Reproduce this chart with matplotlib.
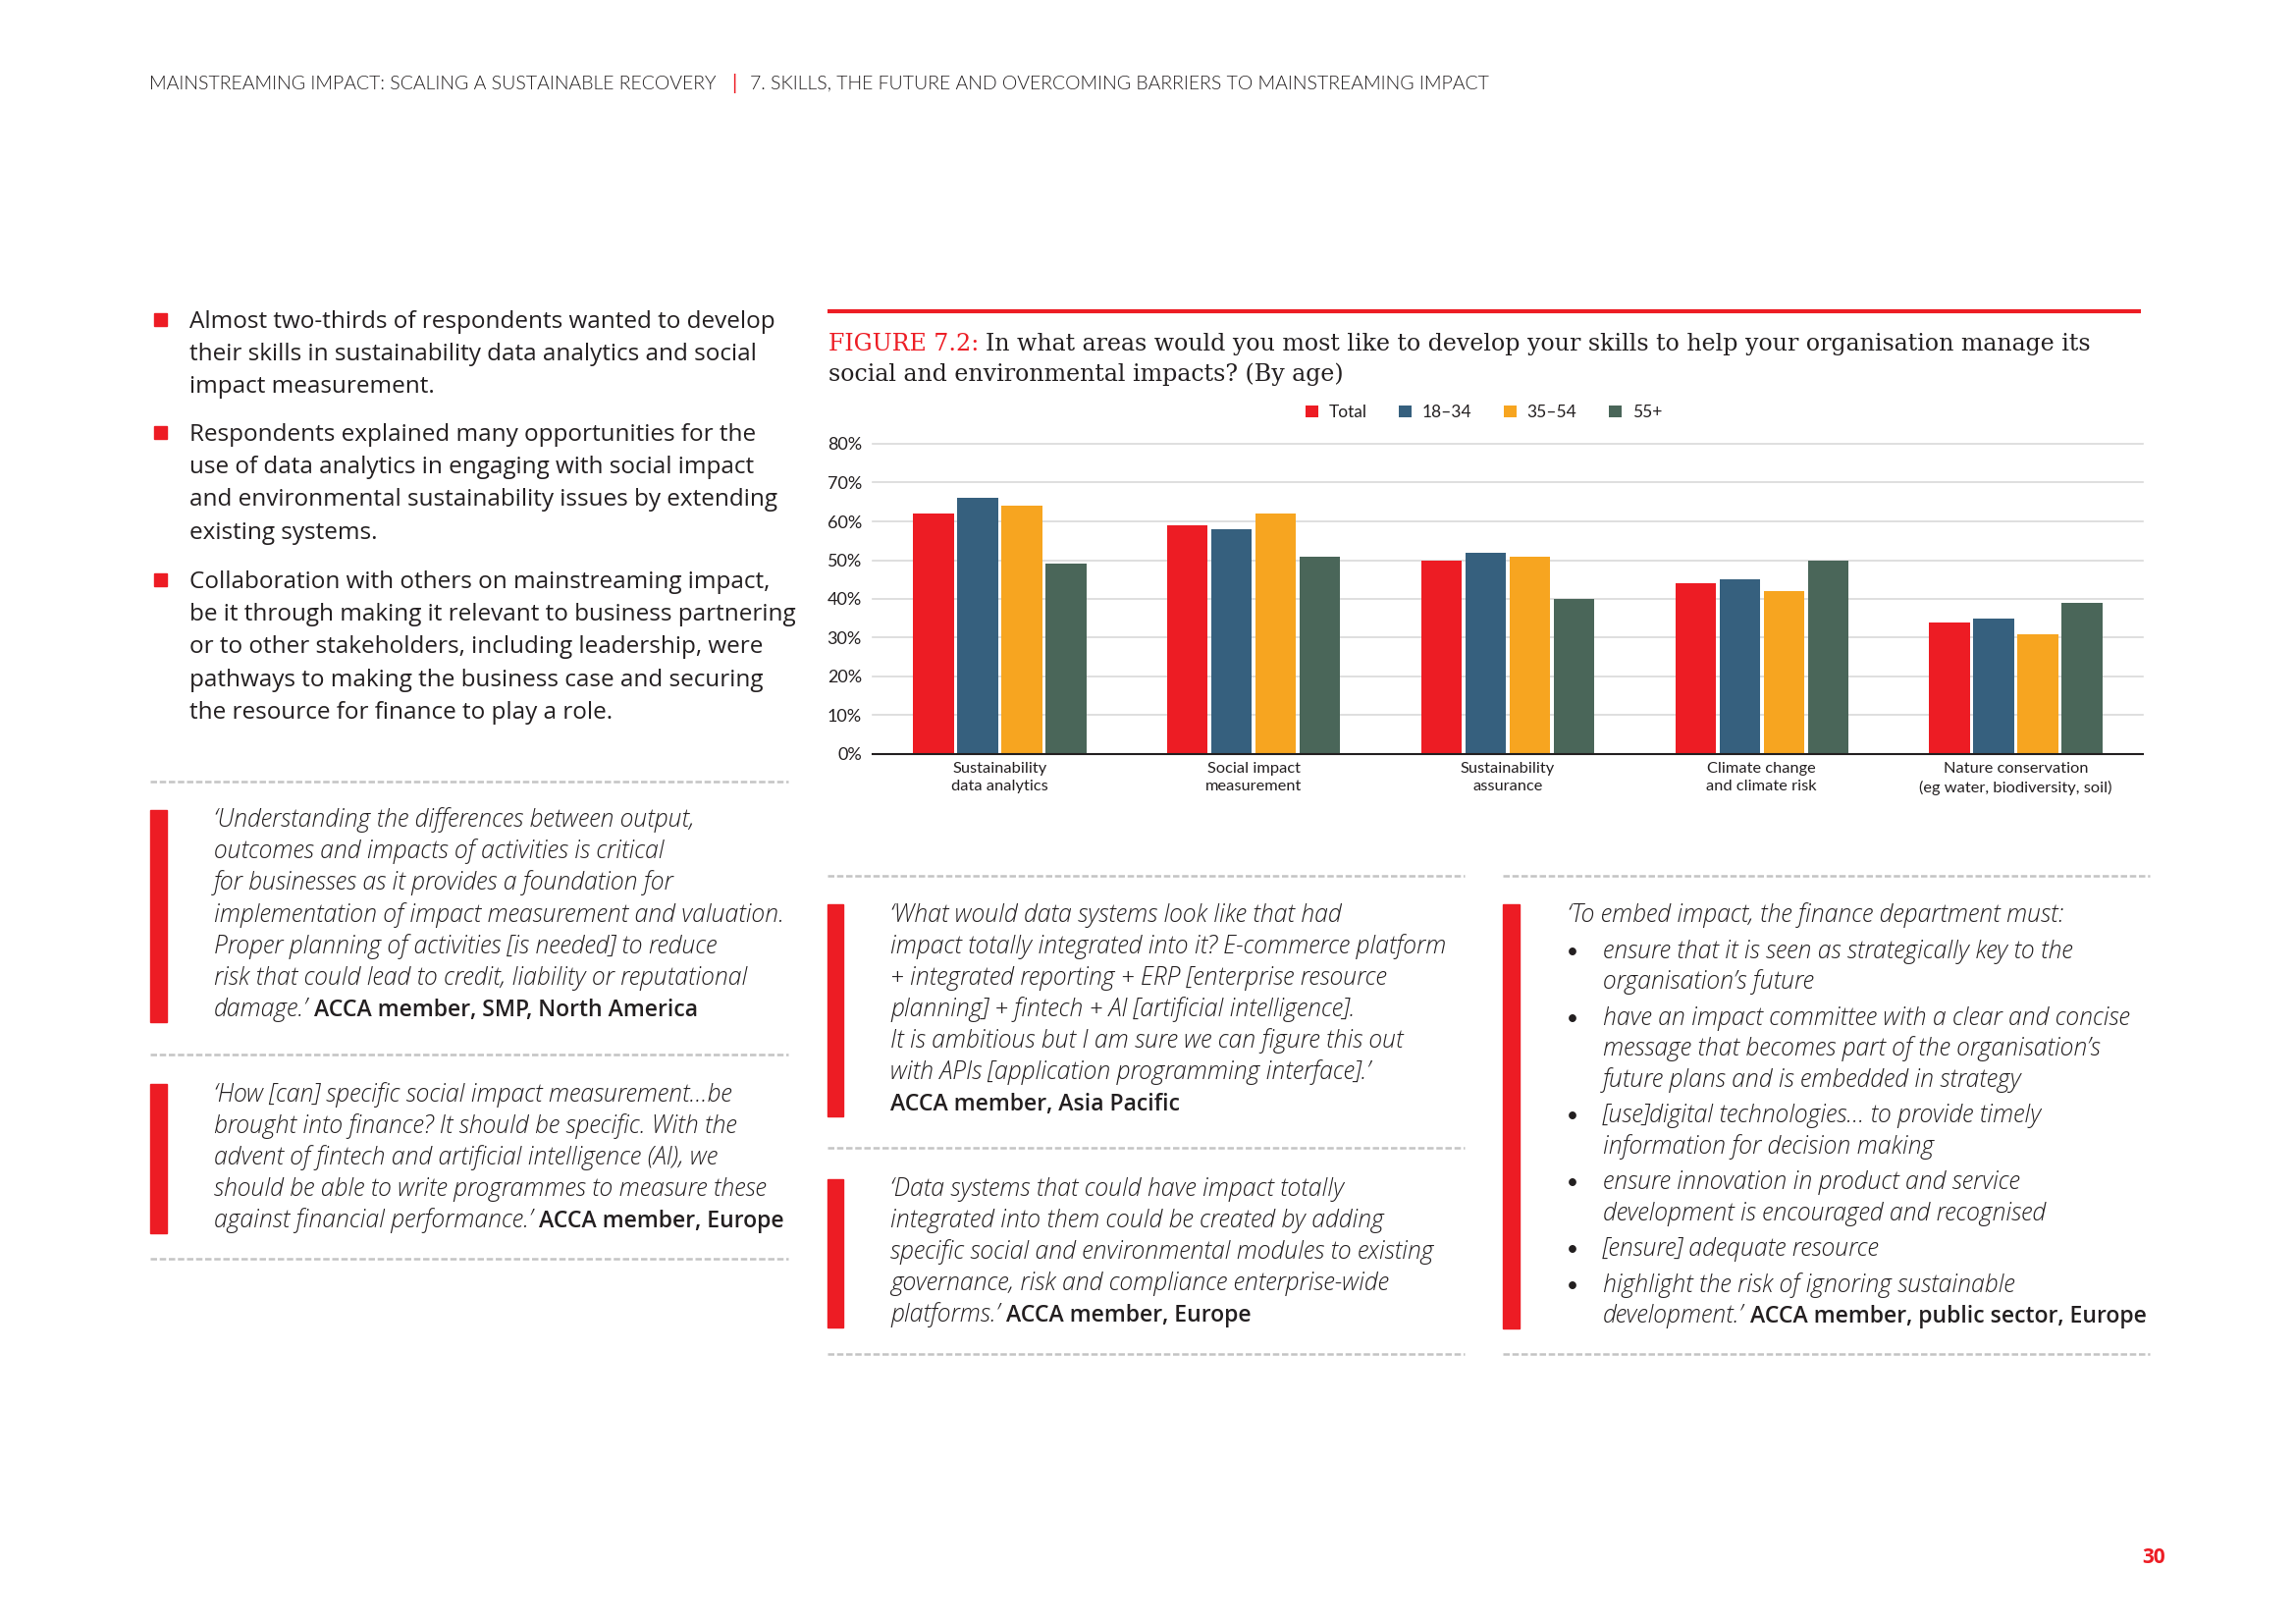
import matplotlib.pyplot as plt
import numpy as np
from matplotlib.patches import Rectangle

# Data
categories = ['Sustainability\ndata analytics', 'Social impact\nmeasurement', 'Sustainability\nassurance',
              'Climate change\nand climate risk', 'Nature conservation\n(eg water, biodiversity, soil)']
series_names = ['Total', '18–34', '35–54', '55+']
total = [62, 59, 50, 44, 34]
age_18_34 = [66, 58, 52, 45, 35]
age_35_54 = [64, 62, 51, 42, 31]
age_55_plus = [49, 51, 40, 50, 39]
y_ticks = [0, 10, 20, 30, 40, 50, 60, 70, 80]

header_left = 'MAINSTREAMING IMPACT: SCALING A SUSTAINABLE RECOVERY'
header_right = '7. SKILLS, THE FUTURE AND OVERCOMING BARRIERS TO MAINSTREAMING IMPACT'
title_label = 'FIGURE 7.2:'
title_lines = ['In what areas would you most like to develop your skills to help your organisation manage its',
               'social and environmental impacts? (By age)']

bullets = [
    ['Almost two-thirds of respondents wanted to develop',
     'their skills in sustainability data analytics and social',
     'impact measurement.'],
    ['Respondents explained many opportunities for the',
     'use of data analytics in engaging with social impact',
     'and environmental sustainability issues by extending',
     'existing systems.'],
    ['Collaboration with others on mainstreaming impact,',
     'be it through making it relevant to business partnering',
     'or to other stakeholders, including leadership, were',
     'pathways to making the business case and securing',
     'the resource for finance to play a role.'],
]
quote1 = ['‘Understanding the differences between output,',
          'outcomes and impacts of activities is critical',
          'for businesses as it provides a foundation for',
          'implementation of impact measurement and valuation.',
          'Proper planning of activities [is needed] to reduce',
          'risk that could lead to credit, liability or reputational',
          'damage.’']
quote2 = ['‘How [can] specific social impact measurement…be',
          'brought into finance? It should be specific. With the',
          'advent of fintech and artificial intelligence (AI), we',
          'should be able to write programmes to measure these',
          'against financial performance.’']
quote3 = ['‘What would data systems look like that had',
          'impact totally integrated into it? E-commerce platform',
          '+ integrated reporting + ERP [enterprise resource',
          'planning] + fintech + AI [artificial intelligence].',
          'It is ambitious but I am sure we can figure this out',
          'with APIs [application programming interface].’']
quote4 = ['‘Data systems that could have impact totally',
          'integrated into them could be created by adding',
          'specific social and environmental modules to existing',
          'governance, risk and compliance enterprise-wide',
          'platforms.’']
quote5_intro = '‘To embed impact, the finance department must:'
quote5_points = [
    ['ensure that it is seen as strategically key to the', 'organisation’s future'],
    ['have an impact committee with a clear and concise', 'message that becomes part of the organisation’s',
     'future plans and is embedded in strategy'],
    ['[use]digital technologies… to provide timely', 'information for decision making'],
    ['ensure innovation in product and service', 'development is encouraged and recognised'],
    ['[ensure] adequate resource'],
    ['highlight the risk of ignoring sustainable', 'development.’'],
]

RED = '#ED1C24'
BLUE = '#36607E'
ORANGE = '#F7A520'
GREEN = '#4A6659'
INK = '#231F20'
DASH = '#C4C4C4'

plt.rcParams['font.family'] = ['Lato', 'DejaVu Sans']
PAGE = ['Open Sans', 'DejaVu Sans']
SERIF = ['DejaVu Serif']

W, H = 2339, 1654
fig = plt.figure(figsize=(W / 100, H / 100), dpi=100)
ov = fig.add_axes([0, 0, 1, 1])
ov.set_xlim(0, W)
ov.set_ylim(H, 0)
ov.axis('off')
r = fig.canvas.get_renderer()

REG = dict(family=PAGE)
ITAL = dict(family=PAGE, style='italic', fontweight=300)
BOLD = dict(family=PAGE, fontweight=600)
HEAD = dict(family=['Lato', 'DejaVu Sans'], fontweight=300)


def fit(text, width, kw):
    # font size that gives the text the width it has on the page
    t = ov.text(0, 0, text, fontsize=10, **kw)
    w = t.get_window_extent(renderer=r).width
    t.remove()
    return 10 * width / w


BODY = (fit(bullets[0][0], 600, REG) + fit(bullets[2][1], 609, REG)) / 2
QUOTE = fit(quote1[3], 578, ITAL)
HEAD_SIZE = fit(header_left, 581, HEAD)
TITLE = fit(title_label + ' ' + title_lines[0], 1294, dict(family=SERIF))
BOLD_SIZE = QUOTE * 0.93


def runs(x, y, parts, size):
    # draw text pieces one after another on the same baseline
    for text, kw in parts:
        kw = dict(kw)
        s = kw.pop('size', size)
        t = ov.text(x, y, text, fontsize=s, va='baseline', color=kw.pop('color', INK), **kw)
        x += t.get_window_extent(renderer=r).width + 0.27 * size * 100 / 72


def dashed(x0, x1, y):
    ov.plot([x0, x1], [y, y], color=DASH, lw=1.8, dashes=(2.6, 1.1), solid_capstyle='butt')


WHO = dict(BOLD, size=BOLD_SIZE)


def quote(x, y0, step, lines, who):
    for i, line in enumerate(lines[:-1]):
        runs(x, y0 + i * step, [(line, ITAL)], QUOTE)
    last = lines[-1]
    y = y0 + (len(lines) - 1) * step
    if last:
        runs(x, y, [(last, ITAL), (who, WHO)], QUOTE)
    else:
        runs(x, y, [(who, WHO)], QUOTE)


# header
ov.text(152, 91, header_left, fontsize=HEAD_SIZE, color=INK, va='baseline', **HEAD)
ov.text(748, 91, '|', fontsize=HEAD_SIZE + 1, color=RED, va='baseline', ha='center')
ov.text(764, 91, header_right, fontsize=HEAD_SIZE, color=INK, va='baseline', **HEAD)

# left bullets
for first, lines in zip([334, 449, 599], bullets):
    ov.add_patch(Rectangle((157, first - 15), 13, 13, color=RED))
    for i, line in enumerate(lines):
        ov.text(193, first + i * 33.2, line, fontsize=BODY, color=INK, va='baseline', **REG)

# left quotes
for y in [796, 1074, 1282]:
    dashed(153, 803, y)
ov.add_patch(Rectangle((153, 825), 17, 216, color=RED))
quote(218, 842.3, 32.07, quote1, 'ACCA member, SMP, North America')
ov.add_patch(Rectangle((153, 1104), 17, 152, color=RED))
quote(218, 1122.3, 31.9, quote2, 'ACCA member, Europe')

# middle quotes
for y in [892, 1169, 1379]:
    dashed(843, 1492, y)
ov.add_patch(Rectangle((843, 921), 16, 216, color=RED))
quote(907, 939, 31.95, quote3 + [''], 'ACCA member, Asia Pacific')
ov.add_patch(Rectangle((843, 1201), 16, 151, color=RED))
quote(907, 1218, 31.9, quote4, 'ACCA member, Europe')

# right quote
for y in [892, 1379]:
    dashed(1531, 2190, y)
ov.add_patch(Rectangle((1531, 921), 17, 432, color=RED))
runs(1597, 939, [(quote5_intro, ITAL)], QUOTE)
y = 975.7
for k, point in enumerate(quote5_points):
    ov.text(1602, y - 6, '•', fontsize=15, color=INK, va='center', ha='center')
    for j, line in enumerate(point):
        if k == len(quote5_points) - 1 and j == len(point) - 1:
            runs(1633, y, [(line, ITAL), ('ACCA member, public sector, Europe', WHO)], QUOTE)
        else:
            runs(1633, y, [(line, ITAL)], QUOTE)
        y += 31.5
    y += 5

# chart heading
ov.plot([843, 2181], [317, 317], color=RED, lw=3, solid_capstyle='butt')
runs(844, 357, [(title_label, dict(color=RED, family=SERIF)),
                (title_lines[0], dict(family=SERIF))], TITLE)
ov.text(844, 388, title_lines[1], fontsize=TITLE, family=SERIF, color=INK, va='baseline')

# page number
ov.text(2194, 1592, '30', fontsize=15, color=RED, ha='center', va='baseline', family=PAGE, fontweight='bold')

# bar chart
ax = fig.add_axes([889 / W, 1 - 768 / H, (2183 - 889) / W, (768 - 452) / H])
ax.patch.set_visible(False)
x = np.arange(len(categories))
pitch = 0.174
for i, (name, vals, col) in enumerate(zip(series_names, [total, age_18_34, age_35_54, age_55_plus],
                                          [RED, BLUE, ORANGE, GREEN])):
    ax.bar(x + (i - 1.5) * pitch, vals, 0.16, color=col, label=name, zorder=3)

ax.set_xlim(-0.5, len(categories) - 0.5)
ax.set_ylim(0, 80)
ax.set_yticks(y_ticks)
ax.set_yticklabels([f'{t}%' for t in y_ticks])
ax.set_xticks(x)
ax.set_xticklabels(categories, fontsize=11.8, linespacing=1.35)
ax.tick_params(axis='y', length=0, pad=8, labelsize=13, labelcolor=INK)
ax.tick_params(axis='x', length=0, pad=6, labelcolor=INK)
ax.grid(axis='y', color='#D9D9D9', lw=1.2, zorder=0)
for gl in ax.get_ygridlines():
    gl.set_clip_on(False)
for s in ['left', 'right', 'top']:
    ax.spines[s].set_visible(False)
ax.spines['bottom'].set_color(INK)
ax.spines['bottom'].set_linewidth(1.5)
ax.spines['bottom'].set_zorder(4)

fig.legend(loc='center', bbox_to_anchor=(1511.5 / W, 1 - 420 / H), ncol=4, frameon=False, fontsize=12.5,
           handlelength=0.75, handleheight=0.7, handletextpad=0.63, columnspacing=1.85, labelcolor=INK)

plt.savefig('out.png', dpi=100)
